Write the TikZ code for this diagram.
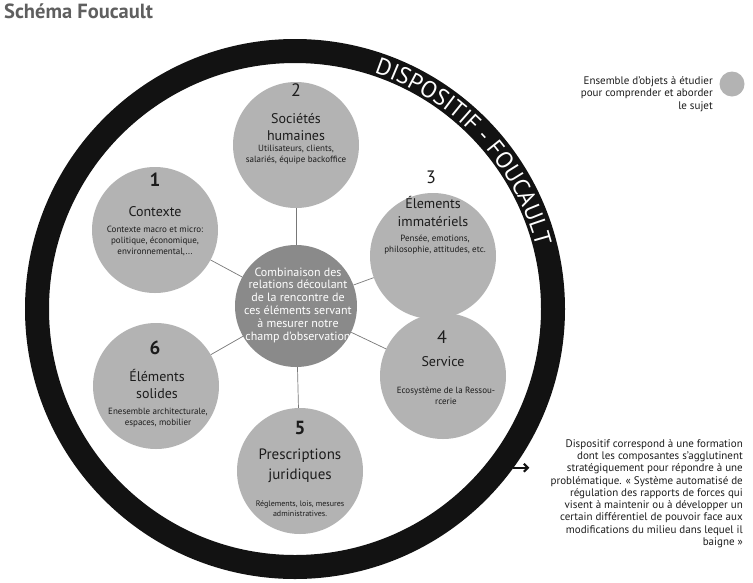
\documentclass[tikz,border=0pt]{standalone}
\usepackage{fontspec}
\setmainfont{PT Sans}
\usepackage{xcolor}
\definecolor{ringBlack}{RGB}{18,18,18}
\definecolor{ballGray}{RGB}{179,179,179}
\definecolor{hubGray}{RGB}{138,138,138}
\definecolor{titleGray}{RGB}{95,95,95}
\definecolor{spokeGray}{RGB}{120,120,120}
\definecolor{inkDark}{RGB}{28,28,28}
\usepackage{tikz}
\usetikzlibrary{arrows.meta,positioning,decorations.text}

\tikzset{
  ball/.style={circle, fill=ballGray, minimum size=126pt, inner sep=0pt},
  hub/.style={circle, fill=hubGray, minimum size=122pt, inner sep=0pt},
  numlabel/.style={inner sep=0pt, text=inkDark, font=\fontsize{18}{18}\selectfont},
  titlelabel/.style={inner sep=0pt, align=center, text=inkDark, font=\fontsize{14}{17}\selectfont},
  desclabel/.style={inner sep=0pt, align=center, text=inkDark, font=\fontsize{9}{10.7}\selectfont},
  spoke/.style={spokeGray, line width=0.7pt},
  note/.style={inner sep=0pt, align=right, text=inkDark, font=\fontsize{11}{12.3}\selectfont},
  pointer/.style={-{Straight Barb[length=4pt,width=8pt]}, line width=2.2pt, ringBlack},
}

\begin{document}
\begin{tikzpicture}[x=1pt,y=-1pt]
  \useasboundingbox (0,0) rectangle (753,582);

  \node[anchor=base west, inner sep=0pt, text=titleGray, font=\fontsize{20.5}{22}\selectfont\bfseries] (titre) at (4,18.5) {Schéma Foucault};

  % anneau
  \node[circle, draw=ringBlack, line width=24pt, minimum size=516pt, inner sep=0pt] (anneau) at (295,309) {};
  \path[decorate, decoration={text along path, text align=center, text color=white,
      text={|\fontsize{23.5}{23.5}\selectfont|DISPOSITIF - FOUCAULT}}]
    (anneau.center) ++(-84:249) arc[start angle=-84, end angle=-2, radius=249];

  % cercles
  \node[hub] (m) at (296,306) {};
  \node[ball] (c1) at (155,230) {};
  \node[ball] (c2) at (296,145) {};
  \node[ball] (c3) at (433,256) {};
  \node[ball] (c4) at (443,376) {};
  \node[ball] (c5) at (300,471) {};
  \node[ball] (c6) at (156,386) {};
  \foreach \i in {1,...,6}
    \draw[spoke] (m) -- (c\i);

  \node[inner sep=0pt, align=center, text=white, font=\fontsize{12}{12.8}\selectfont] (mtxt) at (298,305)
    {Combinaison des\\relations découlant\\de la rencontre de\\ces éléments servant\\à mesurer notre\\champ d’observation};

  % 1
  \node[numlabel, font=\fontsize{19}{19}\selectfont\bfseries] (n1) at (155,180) {1};
  \node[titlelabel] (t1) at (155,212) {Contexte};
  \node[desclabel] (d1) at (155,241) {Contexte macro et micro:\\politique, économique,\\environnemental,...};
  % 2
  \node[numlabel] (n2) at (296,90) {2};
  \node[titlelabel] (t2) at (296,127) {Sociétés\\humaines};
  \node[desclabel] (d2) at (296,154.5) {Utilisateurs, clients,\\salariés, équipe backoffice};
  % 3
  \node[numlabel] (n3) at (431,177) {3};
  \node[titlelabel, font=\fontsize{14}{18}\selectfont] (t3) at (433,211) {Élements\\immatériels};
  \node[desclabel] (d3) at (435,245) {Pensée, emotions,\\philosophie, attitudes, etc.};
  % 4
  \node[numlabel] (n4) at (442,337) {4};
  \node[titlelabel] (t4) at (443,362) {Service};
  \node[desclabel] (d4) at (446,396) {Ecosystème de la Ressou-\\rcerie};
  % 5
  \node[numlabel, font=\fontsize{19}{19}\selectfont\bfseries] (n5) at (300,428) {5};
  \node[titlelabel, font=\fontsize{15}{20}\selectfont] (t5) at (300,466) {Prescriptions\\juridiques};
  \node[desclabel, font=\fontsize{8}{10}\selectfont] (d5) at (300,509) {Réglements, lois, mesures\\administratives.};
  % 6
  \node[numlabel, font=\fontsize{19}{19}\selectfont\bfseries] (n6) at (155,348) {6};
  \node[titlelabel, font=\fontsize{14}{16.5}\selectfont] (t6) at (157,384) {Éléments\\solides};
  \node[desclabel] (d6) at (158,418) {Enesemble architecturale,\\espaces, mobilier};

  % legende
  \node[ball, minimum size=25pt] (cle) at (732,84) {};
  \node[note, anchor=east, font=\fontsize{11}{12.5}\selectfont] (cletxt) at (713,94)
    {Ensemble d’objets à étudier\\pour comprender et aborder\\le sujet};

  % definition
  \node[note, anchor=north east] (def) at (743,439)
    {Dispositif correspond à une formation\\
     dont les composantes s’agglutinent\\
     stratégiquement pour répondre à une\\
     problématique. «~Système automatisé de\\
     régulation des rapports de forces qui\\
     visent à maintenir ou à développer un\\
     certain différentiel de pouvoir face aux\\
     modifications du milieu dans lequel il\\
     baigne~»};
  \coordinate (pointe) at ([xshift=16pt]anneau.-36);
  \draw[pointer] (anneau.-36) -- (pointe);
\end{tikzpicture}
\end{document}
